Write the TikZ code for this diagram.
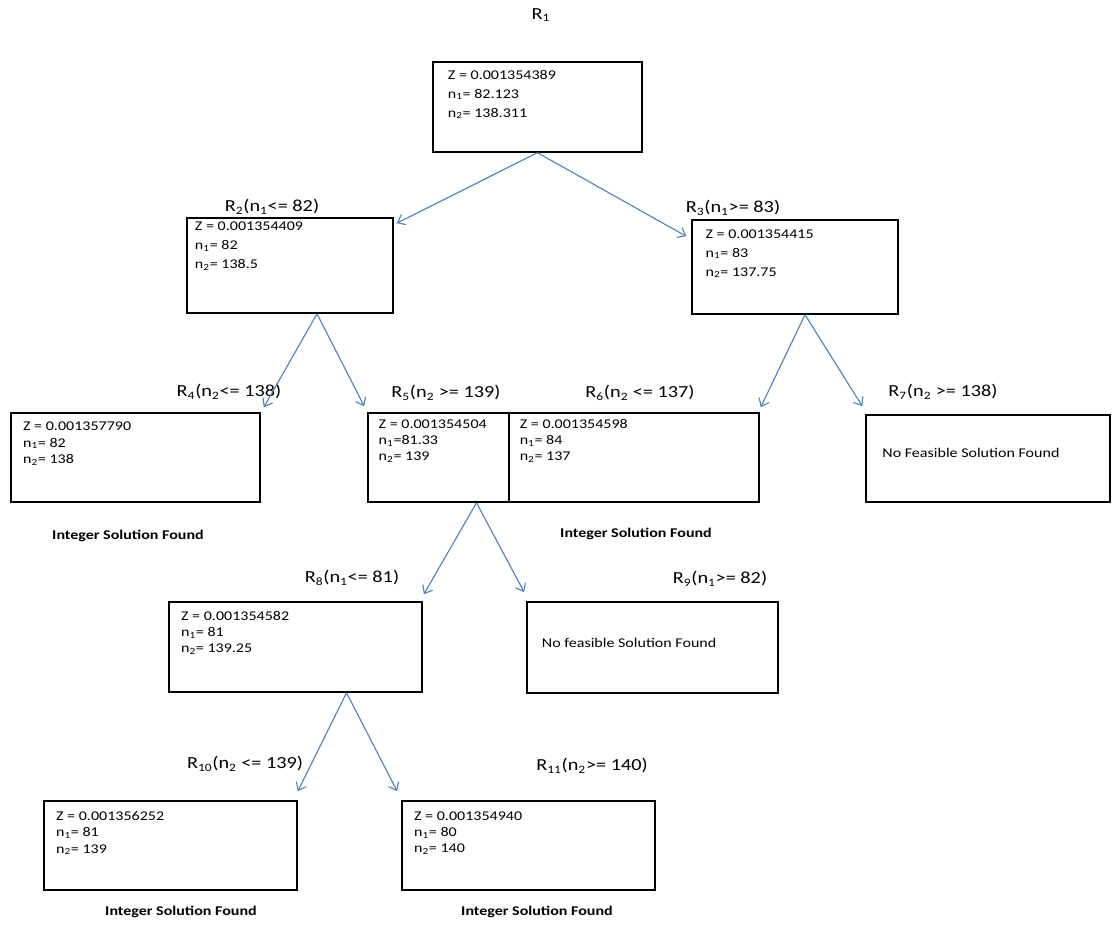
\documentclass[tikz,border=0pt]{standalone}
\usepackage{fontspec}
\setmainfont[FakeStretch=1.2]{Carlito}
\usepackage{tikz}
\usetikzlibrary{arrows.meta}
\usetikzlibrary{positioning}
\definecolor{linkblue}{RGB}{79,129,189}
\newcommand{\ix}[1]{\textsubscript{#1}}
\tikzstyle{box} = [draw=black, line width=1pt, rectangle, 
    minimum width=6.3cm, minimum height=2.23cm, inner sep=0pt]
\tikzstyle{vals} = [inner sep=0pt, align=left, 
    font=\fontsize{9.5}{11.5}\selectfont]
\tikzstyle{bigvals} = [vals, font=\fontsize{9.5}{13.5}\selectfont]
\tikzstyle{cond} = [inner sep=0pt, font=\fontsize{12}{14}\selectfont]
\tikzstyle{found} = [inner sep=0pt, font=\fontsize{9.5}{11}\selectfont\bfseries]
\tikzstyle{link} = [draw=linkblue, line width=0.8pt, ->, 
    >={Straight Barb[length=5pt,width=8pt]}]
\begin{document}
\begin{tikzpicture}[x=0.025cm, y=-0.025cm]
            \useasboundingbox (0,0) rectangle (1112,928);
            % first level
            \node [cond] (l1) at (541,15) {R\ix{1}};
            \node [box, minimum width=5.23cm, minimum height=2.25cm] (r1) at (537.5,107) {};
            \node [bigvals, below right=6pt and 11pt of r1.north west] (v1)
            {Z = 0.001354389\\n\ix{1}= 82.123\\n\ix{2}= 138.311};
            % second level
            \node [cond] (l2) at (272,207) {R\ix{2}(n\ix{1}<= 82)};
            \node [box, minimum width=5.15cm, minimum height=2.38cm] (r2) at (290,265.5) {};
            \node [bigvals, below right=3pt and 6pt of r2.north west] (v2)
            {Z = 0.001354409\\n\ix{1}= 82\\n\ix{2}= 138.5};
            \node [cond] (l3) at (733,208) {R\ix{3}(n\ix{1}>= 83)};
            \node [box, minimum width=5.15cm, minimum height=2.35cm] (r3) at (795,267) {};
            \node [bigvals, below right=7pt and 10pt of r3.north west] (v3)
            {Z = 0.001354415\\n\ix{1}= 83\\n\ix{2}= 137.75};
            % third level
            \node [cond] (l4) at (229,392) {R\ix{4}(n\ix{2}<= 138)};
            \node [box, minimum width=6.23cm] (r4) at (135.5,457.5) {};
            \node [vals, below right=7pt and 9pt of r4.north west] (v4)
            {Z = 0.001357790\\n\ix{1}= 82\\n\ix{2}= 138};
            \node [found] (f4) at (128,536) {Integer Solution Found};
            \node [cond] (l5) at (446,393) {R\ix{5}(n\ix{2} >= 139)};
            \node [box, minimum width=3.53cm] (r5) at (438.5,457.5) {};
            \node [vals, below right=5pt and 8pt of r5.north west] (v5)
            {Z = 0.001354504\\n\ix{1}=81.33\\n\ix{2}= 139};
            \node [cond] (l6) at (640,393) {R\ix{6}(n\ix{2} <= 137)};
            \node [box, minimum width=6.25cm] (r6) at (634,457.5) {};
            \node [vals, below right=5pt and 8pt of r6.north west] (v6)
            {Z = 0.001354598\\n\ix{1}= 84\\n\ix{2}= 137};
            \node [found] (f6) at (636,534) {Integer Solution Found};
            \node [cond] (l7) at (943,392) {R\ix{7}(n\ix{2} >= 138)};
            \node [box, minimum width=6.1cm, minimum height=2.18cm] (r7) at (988,458.5) {};
            \node [vals, right=12pt of r7.west, yshift=4pt] (v7)
            {No Feasible Solution Found};
            % fourth level
            \node [cond] (l8) at (352,578) {R\ix{8}(n\ix{1}<= 81)};
            \node [box, minimum width=6.33cm, minimum height=2.25cm] (r8) at (295.5,647) {};
            \node [vals, below right=7pt and 9pt of r8.north west] (v8)
            {Z = 0.001354582\\n\ix{1}= 81\\n\ix{2}= 139.25};
            \node [cond] (l9) at (720,579) {R\ix{9}(n\ix{1}>= 82)};
            \node [box, minimum width=6.28cm, minimum height=2.28cm] (r9) at (652.5,647.5) {};
            \node [vals, right=11pt of r9.west, yshift=3pt] (v9)
            {No feasible Solution Found};
            % fifth level
            \node [cond] (l10) at (245,764) {R\ix{10}(n\ix{2} <= 139)};
            \node [box, minimum width=6.33cm] (r10) at (170.5,845.5) {};
            \node [vals, below right=8pt and 9pt of r10.north west] (v10)
            {Z = 0.001356252\\n\ix{1}= 81\\n\ix{2}= 139};
            \node [found] (f10) at (181,912) {Integer Solution Found};
            \node [cond] (l11) at (592,766) {R\ix{11}(n\ix{2}>= 140)};
            \node [box, minimum width=6.33cm] (r11) at (528.5,845.5) {};
            \node [vals, below right=8pt and 9pt of r11.north west] (v11)
            {Z = 0.001354940\\n\ix{1}= 80\\n\ix{2}= 140};
            \node [found] (f11) at (537,912) {Integer Solution Found};
            % branches
            \draw [link] (r1.south) -- ([shift={(3,6)}]r2.north east);
            \draw [link] (r1.south) -- ([shift={(-5,17)}]r3.north west);
            \draw [link] ([shift={(27,0)}]r2.south) -- ([shift={(3,-5)}]r4.north east);
            \draw [link] ([shift={(27,0)}]r2.south) -- ([shift={(-3,-6)}]r5.north west);
            \draw [link] ([shift={(10,0)}]r3.south) -- ([shift={(1,-5)}]r6.north east);
            \draw [link] ([shift={(10,0)}]r3.south) -- ([shift={(-3,-8)}]r7.north west);
            \draw [link] ([shift={(38,0)}]r5.south) -- ([shift={(1,-7)}]r8.north east);
            \draw [link] ([shift={(38,0)}]r5.south) -- ([shift={(-2,-9)}]r9.north west);
            \draw [link] ([shift={(51,0)}]r8.south) -- ([shift={(0,-9)}]r10.north east);
            \draw [link] ([shift={(51,0)}]r8.south) -- ([shift={(-4,-9)}]r11.north west);
        \end{tikzpicture}
\end{document}
